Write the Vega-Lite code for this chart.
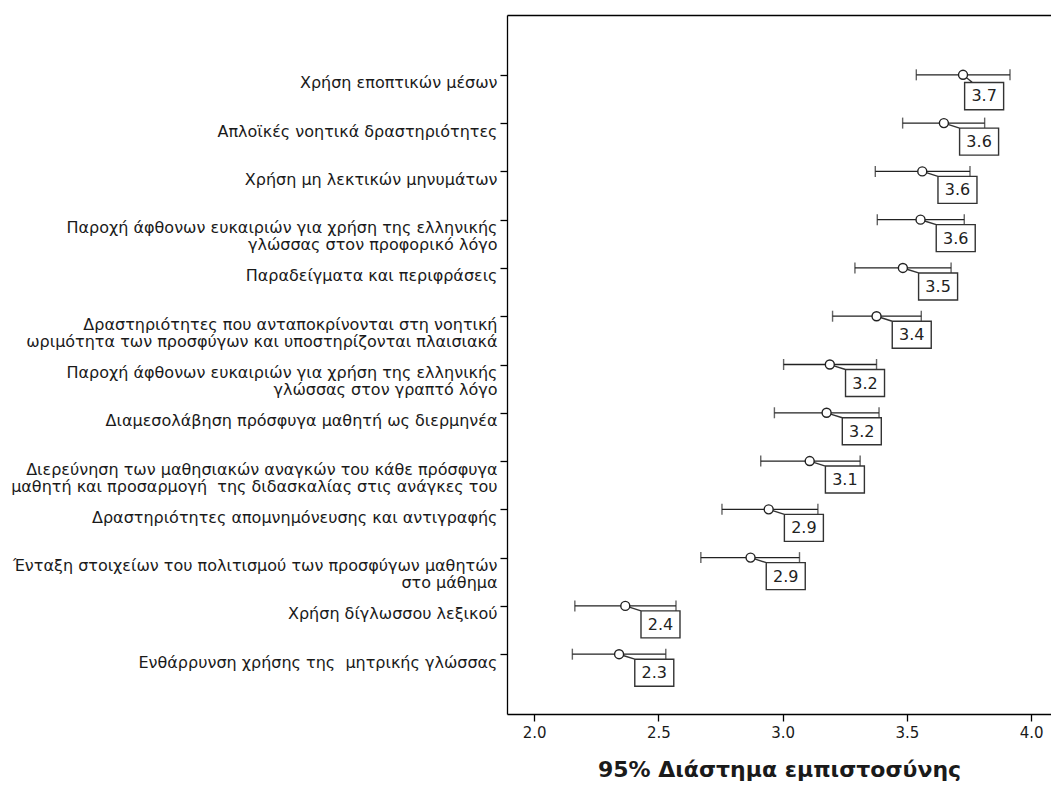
{
  "$schema": "https://vega.github.io/schema/vega-lite/v6.json",
  "width": 544,
  "height": 699,
  "autosize": {"type": "none"},
  "padding": {"left": 507, "top": 15, "right": 0, "bottom": 71},
  "background": "white",
  "config": {"view": {"stroke": null}, "font": "DejaVu Sans"},
  "datasets": {
    "rows": [
      {"item": "Χρήση εποπτικών μέσων", "mean": 3.726, "lo": 3.538, "hi": 3.915, "first": true},
      {"item": "Απλοϊκές νοητικά δραστηριότητες", "mean": 3.649, "lo": 3.483, "hi": 3.813, "first": false},
      {"item": "Χρήση μη λεκτικών μηνυμάτων", "mean": 3.562, "lo": 3.373, "hi": 3.754, "first": false},
      {"item": "Παροχή άφθονων ευκαιριών για χρήση της ελληνικής|γλώσσας στον προφορικό λόγο", "mean": 3.555, "lo": 3.381, "hi": 3.731, "first": false},
      {"item": "Παραδείγματα και περιφράσεις", "mean": 3.484, "lo": 3.291, "hi": 3.678, "first": false},
      {"item": "Δραστηριότητες που ανταποκρίνονται στη νοητική|ωριμότητα των προσφύγων και υποστηρίζονται πλαισιακά", "mean": 3.378, "lo": 3.201, "hi": 3.558, "first": false},
      {"item": "Παροχή άφθονων ευκαιριών για χρήση της ελληνικής|γλώσσας στον γραπτό λόγο", "mean": 3.19, "lo": 3.004, "hi": 3.378, "first": false},
      {"item": "Διαμεσολάβηση πρόσφυγα μαθητή ως διερμηνέα", "mean": 3.177, "lo": 2.967, "hi": 3.388, "first": false},
      {"item": "Διερεύνηση των μαθησιακών αναγκών του κάθε πρόσφυγα|μαθητή και προσαρμογή\u00a0 της διδασκαλίας στις ανάγκες του", "mean": 3.109, "lo": 2.912, "hi": 3.312, "first": false},
      {"item": "Δραστηριότητες απομνημόνευσης και αντιγραφής", "mean": 2.944, "lo": 2.756, "hi": 3.142, "first": false},
      {"item": "Ένταξη στοιχείων του πολιτισμού των προσφύγων μαθητών|στο μάθημα", "mean": 2.871, "lo": 2.671, "hi": 3.068, "first": false},
      {"item": "Χρήση δίγλωσσου λεξικού", "mean": 2.367, "lo": 2.164, "hi": 2.571, "first": false},
      {"item": "Ενθάρρυνση χρήσης της\u00a0 μητρικής γλώσσας", "mean": 2.342, "lo": 2.154, "hi": 2.53, "first": false}
    ]
  },
  "data": {"name": "rows"},
  "encoding": {
    "y": {
      "field": "item", "type": "nominal",
      "scale": {
        "type": "point", "padding": 0.239,
        "domain": [
          "",
          "Χρήση εποπτικών μέσων",
          "Απλοϊκές νοητικά δραστηριότητες",
          "Χρήση μη λεκτικών μηνυμάτων",
          "Παροχή άφθονων ευκαιριών για χρήση της ελληνικής|γλώσσας στον προφορικό λόγο",
          "Παραδείγματα και περιφράσεις",
          "Δραστηριότητες που ανταποκρίνονται στη νοητική|ωριμότητα των προσφύγων και υποστηρίζονται πλαισιακά",
          "Παροχή άφθονων ευκαιριών για χρήση της ελληνικής|γλώσσας στον γραπτό λόγο",
          "Διαμεσολάβηση πρόσφυγα μαθητή ως διερμηνέα",
          "Διερεύνηση των μαθησιακών αναγκών του κάθε πρόσφυγα|μαθητή και προσαρμογή\u00a0 της διδασκαλίας στις ανάγκες του",
          "Δραστηριότητες απομνημόνευσης και αντιγραφής",
          "Ένταξη στοιχείων του πολιτισμού των προσφύγων μαθητών|στο μάθημα",
          "Χρήση δίγλωσσου λεξικού",
          "Ενθάρρυνση χρήσης της\u00a0 μητρικής γλώσσας",
          " "
        ]
      },
      "axis": {
        "title": null, "grid": false,
        "values": [
          "Χρήση εποπτικών μέσων",
          "Απλοϊκές νοητικά δραστηριότητες",
          "Χρήση μη λεκτικών μηνυμάτων",
          "Παροχή άφθονων ευκαιριών για χρήση της ελληνικής|γλώσσας στον προφορικό λόγο",
          "Παραδείγματα και περιφράσεις",
          "Δραστηριότητες που ανταποκρίνονται στη νοητική|ωριμότητα των προσφύγων και υποστηρίζονται πλαισιακά",
          "Παροχή άφθονων ευκαιριών για χρήση της ελληνικής|γλώσσας στον γραπτό λόγο",
          "Διαμεσολάβηση πρόσφυγα μαθητή ως διερμηνέα",
          "Διερεύνηση των μαθησιακών αναγκών του κάθε πρόσφυγα|μαθητή και προσαρμογή\u00a0 της διδασκαλίας στις ανάγκες του",
          "Δραστηριότητες απομνημόνευσης και αντιγραφής",
          "Ένταξη στοιχείων του πολιτισμού των προσφύγων μαθητών|στο μάθημα",
          "Χρήση δίγλωσσου λεξικού",
          "Ενθάρρυνση χρήσης της\u00a0 μητρικής γλώσσας"
        ],
        "domainColor": "#000", "domainWidth": 1.3,
        "tickColor": "#000", "tickSize": 7, "tickWidth": 1.3,
        "labelPadding": 3, "labelFont": "DejaVu Sans", "labelFontSize": 16,
        "labelColor": "#1a1a1a", "labelLimit": 520, "labelBaseline": "middle",
        "labelOffset": 8, "labelLineHeight": 17,
        "labelExpr": "split(datum.label, '|')"
      }
    }
  },
  "layer": [
    {
      "mark": {"type": "rule", "color": "#222", "strokeWidth": 1.3},
      "encoding": {
        "x": {
          "field": "lo", "type": "quantitative",
          "scale": {"domain": [1.891, 4.08], "nice": false, "zero": false},
          "axis": {
            "orient": "bottom", "title": "95% Διάστημα εμπιστοσύνης",
            "titleFont": "DejaVu Sans", "titleFontSize": 22, "titleFontWeight": "bold",
            "titleColor": "#1a1a1a", "titlePadding": 19,
            "values": [2, 2.5, 3, 3.5, 4], "format": ".1f", "grid": false,
            "labelFont": "DejaVu Sans", "labelFontSize": 15, "labelColor": "#1a1a1a",
            "labelPadding": 4, "tickSize": 7, "tickWidth": 1.3, "tickColor": "#000",
            "domainColor": "#000", "domainWidth": 1.3
          }
        },
        "x2": {"field": "hi"}
      }
    },
    {
      "mark": {"type": "tick", "color": "#222", "size": 11, "thickness": 1.4, "orient": "vertical"},
      "encoding": {"x": {"field": "lo", "type": "quantitative", "axis": null}}
    },
    {
      "mark": {"type": "tick", "color": "#222", "size": 11, "thickness": 1.4, "orient": "vertical"},
      "encoding": {"x": {"field": "hi", "type": "quantitative", "axis": null}}
    },
    {
      "transform": [{"filter": "!datum.first"}],
      "mark": {"type": "point", "filled": true, "fill": "white", "stroke": "#333", "strokeWidth": 1.4, "opacity": 1, "size": 400,
               "shape": "M0.4,0.13L1.57,0.5M1.57,0.5L5.47,0.5L5.47,3.2L1.57,3.2Z"},
      "encoding": {"x": {"field": "mean", "type": "quantitative", "axis": null}}
    },
    {
      "transform": [{"filter": "datum.first"}],
      "mark": {"type": "point", "filled": true, "fill": "white", "stroke": "#333", "strokeWidth": 1.4, "opacity": 1, "size": 400,
               "shape": "M0.35,0.3L0.95,0.77M0.16,0.77L4.06,0.77L4.06,3.5L0.16,3.5Z"},
      "encoding": {"x": {"field": "mean", "type": "quantitative", "axis": null}}
    },
    {
      "mark": {"type": "point", "shape": "circle", "filled": true, "fill": "white", "stroke": "#222", "strokeWidth": 1.4, "opacity": 1, "size": 81},
      "encoding": {
        "x": {
          "field": "mean", "type": "quantitative",
          "axis": {"orient": "top", "title": null, "labels": false, "ticks": false, "grid": false, "domainColor": "#000", "domainWidth": 1.3}
        }
      }
    },
    {
      "transform": [{"filter": "!datum.first"}],
      "mark": {"type": "text", "dx": 35.2, "dy": 19, "align": "center", "baseline": "middle", "font": "DejaVu Sans", "fontSize": 16, "color": "#222"},
      "encoding": {
        "x": {"field": "mean", "type": "quantitative", "axis": null},
        "text": {"field": "mean", "type": "quantitative", "format": ".1f"}
      }
    },
    {
      "transform": [{"filter": "datum.first"}],
      "mark": {"type": "text", "dx": 21.1, "dy": 21.5, "align": "center", "baseline": "middle", "font": "DejaVu Sans", "fontSize": 16, "color": "#222"},
      "encoding": {
        "x": {"field": "mean", "type": "quantitative", "axis": null},
        "text": {"field": "mean", "type": "quantitative", "format": ".1f"}
      }
    }
  ],
  "resolve": {"axis": {"x": "independent"}}
}
